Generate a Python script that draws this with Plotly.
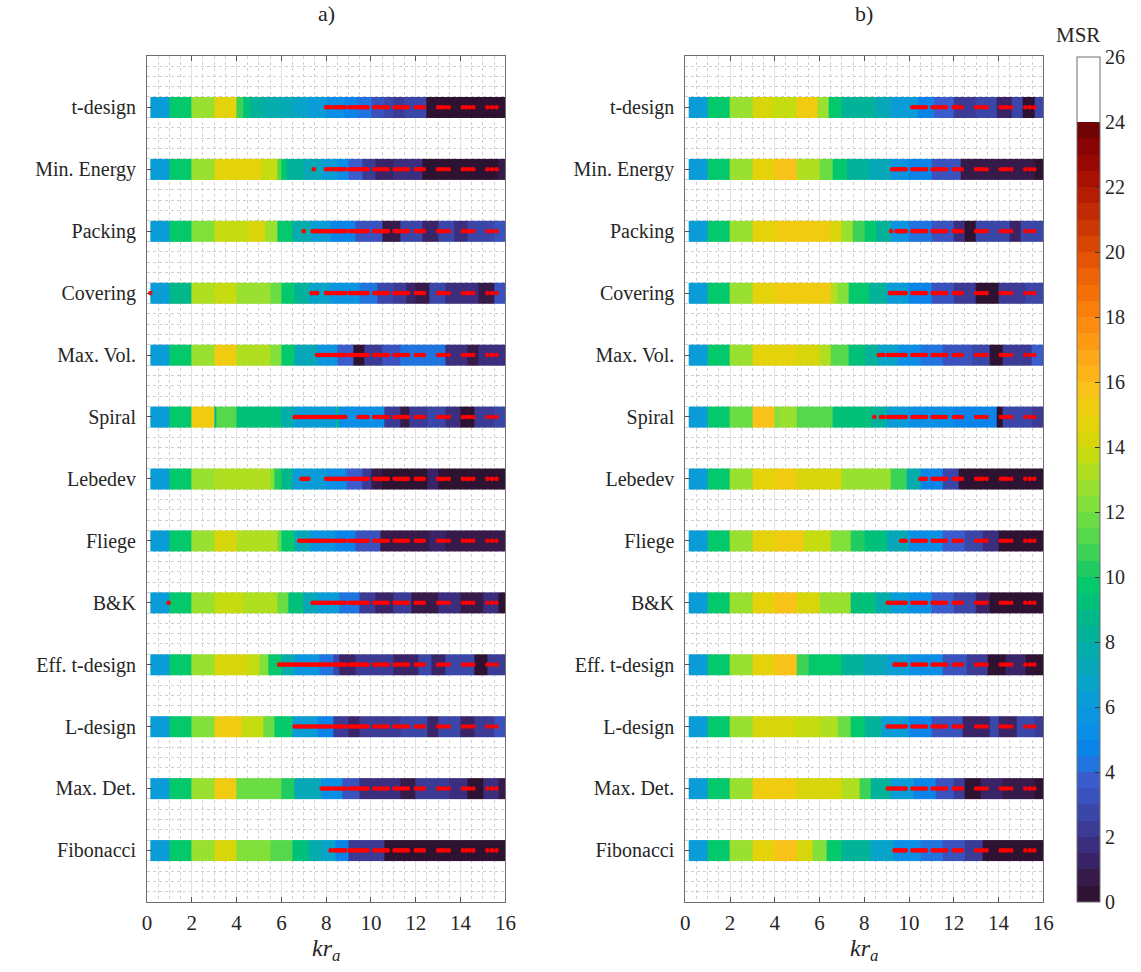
import plotly.graph_objects as go

# ---------------------------------------------------------------- data
LAYOUTS = ["t-design", "Min. Energy", "Packing", "Covering", "Max. Vol.", "Spiral",
           "Lebedev", "Fliege", "B&K", "Eff. t-design", "L-design", "Max. Det.", "Fibonacci"]

X_TICKS = [0, 2, 4, 6, 8, 10, 12, 14, 16]
CBAR_TICKS = [0, 2, 4, 6, 8, 10, 12, 14, 16, 18, 20, 22, 24, 26]

# panel a): kr_a segment edges and the MSR value of each segment
A_EDGES = [
    [0.15, 1, 2, 3, 4, 4.3, 4.6, 5.2, 6.0, 6.6, 7.2, 8.0, 8.8, 9.4, 10.0, 10.6, 11.0, 11.5, 12.45, 16],
    [0.15, 1, 2, 3, 5.1, 5.8, 6.0, 6.2, 7.0, 7.8, 8.5, 9.0, 9.6, 10.2, 11.0, 12.3, 15.7, 16],
    [0.15, 1, 2, 3, 4.5, 5.3, 5.8, 6.5, 7.3, 8.2, 9.3, 10.5, 11.3, 12.3, 13.0, 13.7, 14.3, 15.0, 15.5, 16],
    [0.15, 1, 2, 3, 4, 5.5, 6.0, 6.6, 7.2, 8.2, 9.5, 10.3, 11.0, 11.6, 12.0, 12.6, 13.3, 14.8, 15.5, 16],
    [0.15, 1, 2, 3, 4, 5.5, 6.0, 6.6, 7.6, 8.5, 9.2, 9.7, 10.5, 11.3, 13.3, 14.3, 14.8, 16],
    [0.15, 1, 2, 3, 3.1, 4, 6.0, 6.6, 8.45, 8.55, 10.6, 11.3, 11.7, 12.5, 13.3, 14.0, 14.6, 15.5, 16],
    [0.15, 1, 2, 3, 5.5, 5.7, 6.0, 6.5, 8.0, 8.9, 9.6, 10.0, 10.5, 12.5, 13.0, 16],
    [0.15, 1, 2, 3, 4, 5.8, 6.0, 6.6, 7.3, 8.4, 9.3, 10.4, 12.6, 13.3, 16],
    [0.15, 1, 2, 3, 4.3, 5.8, 6.3, 7.0, 7.6, 8.6, 9.5, 10.2, 11.0, 11.8, 13.0, 14.0, 15.0, 15.7, 16],
    [0.15, 1, 2, 3, 4.5, 5.0, 5.4, 6.0, 6.6, 7.7, 8.3, 8.6, 9.3, 11.0, 12.1, 12.7, 13.3, 14.6, 15.2, 16],
    [0.15, 1, 2, 3, 4.2, 5.2, 5.7, 6.5, 7.6, 8.3, 9.0, 9.5, 11.3, 12.5, 13.0, 14.0, 14.6, 15.5, 16],
    [0.15, 1, 2, 3, 4, 6.0, 6.6, 7.8, 8.7, 9.5, 11.3, 12.0, 13.5, 14.3, 15.0, 15.7, 16],
    [0.15, 1, 2, 3, 4, 5.5, 6.5, 7.2, 7.8, 8.4, 9.0, 10.6, 16],
]
A_MSR = [
    [6.3, 9.7, 12.6, 14.6, 10.7, 9.2, 8.3, 7.6, 7.0, 6.6, 6.0, 5.2, 4.6, 4.2, 3.4, 2.8, 2.3, 2.8, 0.3],
    [6.3, 9.7, 12.6, 14.6, 13.8, 11.0, 9.5, 8.0, 7.2, 6.0, 5.0, 3.8, 2.2, 1.0, 1.8, 0.3, 0.8],
    [6.3, 9.7, 12.4, 13.8, 14.3, 12.5, 9.5, 7.5, 6.0, 4.5, 3.2, 0.8, 2.5, 1.2, 2.8, 1.5, 2.8, 2.5, 3.4],
    [6.3, 8.8, 13.3, 13.6, 12.8, 11.5, 9.5, 8.0, 6.5, 5.5, 4.2, 2.8, 2.2, 1.0, 0.6, 2.5, 1.6, 0.5, 3.2],
    [6.3, 9.7, 12.6, 15.2, 13.5, 12.3, 9.5, 7.3, 5.5, 3.5, 0.4, 2.2, 3.2, 4.3, 1.8, 0.5, 1.8],
    [6.3, 9.5, 15.3, 8.5, 11.3, 9.3, 7.8, 6.3, 9.0, 5.2, 2.0, 0.6, 2.4, 2.8, 1.5, 0.4, 2.2, 2.8],
    [6.3, 9.7, 12.6, 13.5, 12.0, 10.0, 8.8, 6.3, 5.3, 3.6, 2.0, 0.8, 0.4, 1.2, 0.4],
    [6.3, 9.7, 12.7, 14.2, 13.4, 11.5, 9.5, 7.3, 5.8, 4.7, 3.4, 0.5, 1.3, 0.6],
    [6.3, 9.7, 12.6, 13.8, 13.3, 11.5, 9.3, 7.2, 6.0, 4.0, 2.4, 1.0, 2.3, 0.7, 1.8, 0.6, 1.8, 0.4],
    [6.3, 9.7, 12.7, 14.0, 13.8, 12.2, 9.5, 7.5, 5.8, 4.2, 2.8, 1.2, 2.0, 1.0, 2.5, 1.4, 2.8, 0.4, 2.0],
    [6.3, 9.7, 12.3, 15.3, 13.8, 11.8, 9.5, 6.4, 4.5, 2.4, 1.0, 2.0, 2.8, 1.2, 2.6, 1.0, 2.4, 3.4],
    [6.3, 9.7, 12.6, 15.3, 11.8, 10.0, 7.0, 5.2, 3.3, 1.6, 0.6, 2.2, 1.6, 0.4, 1.8, 0.6],
    [6.3, 9.7, 12.6, 14.4, 12.0, 11.0, 9.3, 7.8, 6.5, 4.6, 2.4, 0.3],
]

# panel b)
B_EDGES = [
    [0.15, 1, 2, 3, 3.9, 5.0, 5.9, 6.4, 7.0, 8.5, 9.2, 10.4, 11.1, 12.0, 13.0, 13.9, 14.6, 15.1, 15.6, 16],
    [0.15, 1, 2, 3, 4, 5, 6.0, 6.6, 7.2, 8.2, 9.2, 10.0, 11.0, 12.3, 13.4, 15.6, 16],
    [0.15, 1, 2, 3, 4, 6.5, 7.0, 7.5, 8.0, 8.5, 9.2, 10.0, 11.0, 12.0, 12.5, 13.0, 14.5, 15.0, 16],
    [0.15, 1, 2, 3, 4, 6.5, 6.8, 7.3, 8.2, 9.0, 10.0, 11.0, 12.0, 13.0, 14.0, 15.2, 16],
    [0.15, 1, 2, 3, 4, 5, 6.0, 6.5, 7.3, 8.0, 8.6, 9.5, 10.5, 11.5, 12.8, 13.6, 14.2, 15.5, 16],
    [0.15, 1, 2, 3, 4, 4.2, 5, 6.6, 8.3, 9.0, 10.0, 12.0, 13.9, 14.2, 15.5, 16],
    [0.15, 1, 2, 3, 4, 5, 7.0, 9.2, 9.9, 10.5, 11.5, 12.2, 16],
    [0.15, 1, 2, 3, 4, 5.3, 6.5, 7.4, 8.0, 9.0, 10.0, 11.5, 12.5, 13.3, 14.0, 16],
    [0.15, 1, 2, 3, 4, 5, 6.0, 7.4, 8.5, 9.2, 10.0, 11.0, 12.0, 13.0, 13.6, 16],
    [0.15, 1, 2, 3, 4, 5, 5.5, 7.0, 8.0, 9.0, 10.0, 11.5, 12.6, 13.5, 14.3, 15.2, 16],
    [0.15, 1, 2, 3, 5, 6, 6.8, 7.4, 8.0, 8.8, 10.0, 11.0, 12.4, 13.6, 14.0, 14.8, 15.6, 16],
    [0.15, 1, 2, 3, 5, 7.0, 7.8, 8.3, 9.2, 10.2, 11.2, 12.0, 12.5, 13.2, 14.2, 15.6, 16],
    [0.15, 1, 2, 3, 4, 5, 5.7, 6.3, 7.0, 8.3, 9.3, 10.5, 11.5, 12.5, 13.3, 16],
]
B_MSR = [
    [6.3, 9.7, 12.6, 14.4, 13.6, 15.4, 12.5, 9.8, 8.0, 7.0, 6.0, 4.8, 3.6, 2.4, 2.8, 1.2, 2.6, 0.4, 2.6],
    [6.3, 9.7, 12.6, 14.6, 15.8, 13.3, 11.5, 9.5, 8.0, 7.0, 5.5, 4.8, 3.2, 0.6, 0.8, 0.3],
    [6.3, 9.7, 12.6, 14.6, 15.4, 14.3, 12.8, 10.8, 9.6, 8.0, 5.6, 4.3, 3.4, 1.5, 0.4, 2.5, 1.4, 2.6],
    [6.3, 9.7, 12.6, 14.6, 15.3, 13.5, 12.0, 9.5, 8.0, 6.2, 4.6, 3.2, 2.3, 0.4, 2.0, 2.6],
    [6.3, 9.7, 12.6, 14.6, 14.9, 14.2, 13.0, 11.0, 9.3, 8.0, 6.5, 5.2, 4.0, 3.0, 2.6, 0.4, 2.4, 3.6],
    [6.3, 9.7, 11.8, 15.5, 12.0, 12.5, 11.0, 9.3, 8.0, 6.0, 5.0, 4.5, 0.4, 2.5, 2.2],
    [6.3, 9.7, 12.6, 14.6, 15.4, 14.2, 12.8, 10.5, 7.5, 4.8, 2.8, 0.4],
    [6.3, 9.7, 12.6, 14.6, 15.2, 13.8, 12.3, 10.2, 9.0, 7.0, 5.0, 3.6, 2.5, 1.8, 0.4],
    [6.3, 9.7, 12.6, 14.6, 15.8, 14.0, 12.8, 9.4, 7.5, 6.0, 5.0, 3.6, 2.5, 1.4, 0.4],
    [6.3, 9.7, 12.6, 14.6, 15.6, 10.6, 9.5, 8.3, 7.2, 6.0, 5.0, 3.4, 2.4, 0.4, 1.0, 0.4],
    [6.3, 9.7, 12.6, 14.3, 13.8, 13.0, 11.5, 9.5, 8.2, 6.3, 4.8, 3.2, 1.0, 2.5, 1.2, 2.6, 2.0],
    [6.3, 9.7, 12.6, 15.4, 14.3, 13.2, 10.5, 8.3, 6.0, 4.6, 3.0, 2.3, 0.4, 1.2, 0.6, 0.4],
    [6.3, 9.7, 12.6, 14.6, 15.7, 14.0, 12.0, 9.8, 8.2, 6.6, 5.4, 4.2, 3.0, 2.2, 0.4],
]

# kr_a frequency points at which a marker can be placed
DOT_GRID = [5.9, 6.0, 6.1, 6.2, 6.3, 6.4, 6.5, 6.6, 6.7, 6.8, 6.9, 7.0, 7.1, 7.2, 7.3,
            7.4, 7.5, 7.6, 7.7, 7.8, 7.9, 8.0, 8.1, 8.2,
            8.35, 8.45, 8.55, 8.65, 8.75, 8.85,
            9.05, 9.15, 9.25, 9.35, 9.45, 9.55, 9.65, 9.75, 9.85,
            10.15, 10.27, 10.39, 10.51, 10.63, 10.75,
            11.05, 11.17, 11.29, 11.41, 11.53, 11.65,
            12.0, 12.12, 12.24, 12.36,
            13.0, 13.15, 13.3, 13.47,
            14.1, 14.25, 14.4, 14.57,
            15.2, 15.4, 15.6]

# first marked kr_a per layout, isolated markers, and skipped ranges
A_DOT_START = [8.0, 8.0, 7.4, 8.0, 7.6, 6.6, 8.0, 6.8, 7.4, 5.9, 6.55, 7.75, 8.2]
A_DOT_EXTRA = [[], [7.45], [7.0], [0.15, 7.35, 7.5, 7.6], [], [], [6.9, 7.0, 7.1, 7.2],
               [], [0.97], [], [], [], []]
A_DOT_SKIP = [None, None, None, None, None, (9.05, 9.35), None, None, None, None, None, None, None]

B_DOT_START = [10.1, 9.2, 9.4, 9.1, 8.6, 8.75, 10.4, 9.6, 8.9, 9.3, 9.05, 8.9, 9.3]
B_DOT_EXTRA = [[], [], [9.2], [], [], [8.45], [], [], [], [], [], [], []]
B_DOT_SKIP = [None] * 13

# 0.5-wide colour bands from MSR = 0 up to 24, white above
BAND_COLORS = [
    "#2e1232", "#361a4a", "#3a2468", "#3c2e7e", "#3b3a95", "#3a46a8", "#3a52bd", "#3a5ccc",
    "#1f74e0", "#0b84ea", "#0a8ee6", "#0b95e0", "#0a9cd6", "#07a3c8", "#06a8b8", "#04acab",
    "#02b39a", "#01b88a", "#00c07a", "#04c86c", "#20cc62", "#3cd256", "#55d84c", "#6adc44",
    "#82e03a", "#9ae030", "#b0de20", "#c4dc10", "#d6d60a", "#e4d20a", "#f0cc10", "#f8c218",
    "#fcb418", "#fca818", "#fc9a14", "#fc8c10", "#fa7e0a", "#f47006", "#ec6204", "#e45404",
    "#d84604", "#cc3804", "#c02a04", "#b41c04", "#a81004", "#980804", "#880404", "#700404",
    "#ffffff", "#ffffff", "#ffffff", "#ffffff",
]

# ---------------------------------------------------------------- figure
W, H = 1141, 972
Z_MAX = 26.0
HALF = 1.0 / 6.0
SERIF = "Liberation Serif"
TXT = "#262626"


def px_x(p):
    return p / W


def px_y(p):
    return 1 - p / H


colorscale = []
n_bands = len(BAND_COLORS)
for k, c in enumerate(BAND_COLORS):
    colorscale.append([k / n_bands, c])
    colorscale.append([(k + 1) / n_bands, c])

fig = go.Figure()

panels = [("x", "y", A_EDGES, A_MSR, A_DOT_START, A_DOT_EXTRA, A_DOT_SKIP),
          ("x2", "y2", B_EDGES, B_MSR, B_DOT_START, B_DOT_EXTRA, B_DOT_SKIP)]

first = True
for xa, ya, edges_all, msr_all, starts, extras, skips in panels:
    for i, name in enumerate(LAYOUTS):
        r = i + 1
        fig.add_trace(go.Heatmap(
            x=edges_all[i], y=[r - HALF, r + HALF], z=[msr_all[i]],
            zmin=0, zmax=Z_MAX, colorscale=colorscale,
            showscale=first, xaxis=xa, yaxis=ya, hoverinfo="skip",
            colorbar=dict(
                x=px_x(1087), xanchor="left", y=px_y(902), yanchor="bottom",
                len=(902 - 57) / H, lenmode="fraction",
                thickness=23, thicknessmode="pixels",
                outlinewidth=1, outlinecolor="#6e6e6e",
                tickmode="array", tickvals=CBAR_TICKS,
                ticks="inside", ticklen=5, tickcolor="#333333",
                tickfont=dict(family=SERIF, size=20, color=TXT),
                xpad=0, ypad=0,
            ),
        ))
        first = False

    for i, name in enumerate(LAYOUTS):
        r = i + 1
        pts = list(extras[i])
        for k in DOT_GRID:
            if k < starts[i] - 1e-9:
                continue
            if skips[i] is not None and skips[i][0] <= k <= skips[i][1]:
                continue
            pts.append(k)
        fig.add_trace(go.Scatter(
            x=pts, y=[r] * len(pts), mode="markers",
            marker=dict(color="#ff0000", size=4.6, line=dict(width=0)),
            xaxis=xa, yaxis=ya, hoverinfo="skip", showlegend=False,
        ))

x_common = dict(
    range=[0, 16], tickmode="array", tickvals=X_TICKS,
    ticks="inside", ticklen=5, tickcolor="#555555",
    showline=True, linecolor="#6e6e6e", linewidth=1, mirror="ticks",
    showgrid=True, gridcolor="#e2e2e2", gridwidth=1, zeroline=False,
    minor=dict(tickmode="linear", tick0=0, dtick=0.5, showgrid=True,
               gridcolor="#cfcfcf", griddash="dot", gridwidth=1, ticks=""),
    tickfont=dict(family=SERIF, size=21, color=TXT),
    ticklabelstandoff=2, fixedrange=True,
)
y_common = dict(
    range=[len(LAYOUTS) + 5 * HALF, 1 - 5 * HALF],
    tickmode="array", tickvals=list(range(1, len(LAYOUTS) + 1)), ticktext=LAYOUTS,
    ticks="inside", ticklen=5, tickcolor="#555555",
    showline=True, linecolor="#6e6e6e", linewidth=1, mirror=True,
    showgrid=False, zeroline=False,
    minor=dict(tickmode="linear", tick0=0, dtick=HALF, showgrid=True,
               gridcolor="#cfcfcf", griddash="dot", gridwidth=1, ticks=""),
    tickfont=dict(family=SERIF, size=20, color=TXT),
    ticklabelstandoff=6, fixedrange=True,
)

y_dom = [px_y(902), px_y(55.7)]
fig.update_layout(
    width=W, height=H,
    margin=dict(l=0, r=0, t=0, b=0),
    paper_bgcolor="white", plot_bgcolor="white",
    showlegend=False,
    xaxis=dict(domain=[px_x(144), px_x(507.5)], anchor="y", **x_common),
    yaxis=dict(domain=y_dom, anchor="x", **y_common),
    xaxis2=dict(domain=[px_x(690), px_x(1053)], anchor="y2", **x_common),
    yaxis2=dict(domain=y_dom, anchor="x2", **y_common),
)

annos = [
    ("a)", (144 + 507.5) / 2, 13, 22),
    ("b)", (690 + 1053) / 2, 13, 22),
    ("MSR", 1088, 35, 21),
    ("<i>kr</i><sub><i>a</i></sub>", (144 + 507.5) / 2, 950, 24),
    ("<i>kr</i><sub><i>a</i></sub>", (690 + 1053) / 2, 950, 24),
]
for text, xp, yp, size in annos:
    fig.add_annotation(
        text=text, x=px_x(xp), y=px_y(yp), xref="paper", yref="paper",
        showarrow=False, xanchor="center", yanchor="middle",
        font=dict(family=SERIF, size=size, color=TXT),
    )

fig.write_html("out.html")
